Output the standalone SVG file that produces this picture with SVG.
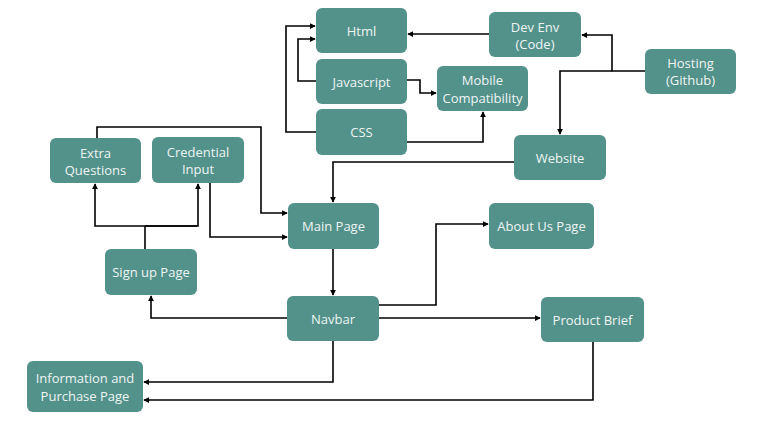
<svg xmlns="http://www.w3.org/2000/svg" width="759" height="427" viewBox="0 0 759 427">
<defs>
<marker id="ah" viewBox="0 0 8 8" refX="7" refY="4" markerWidth="6" markerHeight="6" orient="auto" markerUnits="userSpaceOnUse">
<path d="M0,0 L8,4 L0,8 z" fill="#000"/>
</marker>
<style>
.n rect{fill:#53918b;}
.n text{fill:#eef5f3;font-family:"Open Sans","Liberation Sans",sans-serif;font-size:13px;text-anchor:middle;dominant-baseline:central;}
.c path{fill:none;stroke:#000;stroke-width:1.6;marker-end:url(#ah);}
.c path.nm{marker-end:none;}
</style>
</defs>
<rect width="759" height="427" fill="#fff"/>
<g id="connectors" class="c">
<path d="M489,34 H408"/>
<path d="M645,71 H612 V35 H582"/>
<path d="M612,71 H560 V134"/>
<path d="M316,81 H298 V39 H315"/>
<path d="M316,132 H286 V26 H315"/>
<path d="M407,80 H420 V93 H436"/>
<path d="M407,142 H483 V112"/>
<path d="M514,162 H333 V202"/>
<path d="M97,138 V127 H261 V213 H287"/>
<path d="M210,183 V237 H287"/>
<path class="nm" d="M145,249 V226"/>
<path d="M197,226 H95 V184"/>
<path d="M145,226 H198 V184"/>
<path d="M333,249 V295"/>
<path d="M379,305 H436 V224 H488"/>
<path d="M379,318 H540"/>
<path d="M287,318 H151 V296"/>
<path d="M333,341 V382 H144"/>
<path d="M593,342 V400 H144"/>
</g>
<g id="html" class="n"><rect x="316" y="8" width="91" height="45" rx="6"/><text x="361.5" y="31">Html</text></g>
<g id="javascript" class="n"><rect x="316" y="59" width="91" height="45" rx="6"/><text x="361.5" y="81.5">Javascript</text></g>
<g id="css" class="n"><rect x="316" y="109" width="91" height="46" rx="6"/><text x="361.5" y="132">CSS</text></g>
<g id="mobile" class="n"><rect x="437" y="66" width="91" height="45" rx="6"/><text x="482.5" y="80">Mobile</text><text x="482.5" y="97.5">Compatibility</text></g>
<g id="devenv" class="n"><rect x="489" y="12" width="92" height="45" rx="6"/><text x="535" y="26.5">Dev Env</text><text x="535" y="44">(Code)</text></g>
<g id="hosting" class="n"><rect x="645" y="49" width="91" height="45" rx="6"/><text x="690.5" y="62.5">Hosting</text><text x="690.5" y="80">(Github)</text></g>
<g id="website" class="n"><rect x="514" y="135" width="92" height="45" rx="6"/><text x="560" y="157.5">Website</text></g>
<g id="extra" class="n"><rect x="50" y="138" width="91" height="45" rx="6"/><text x="95.5" y="152.5">Extra</text><text x="95.5" y="170">Questions</text></g>
<g id="credential" class="n"><rect x="152" y="137" width="92" height="46" rx="6"/><text x="198" y="151.5">Credential</text><text x="198" y="169">Input</text></g>
<g id="signup" class="n"><rect x="105" y="249" width="92" height="46" rx="6"/><text x="151" y="272">Sign up Page</text></g>
<g id="main" class="n"><rect x="288" y="203" width="91" height="46" rx="6"/><text x="333.5" y="226">Main Page</text></g>
<g id="about" class="n"><rect x="489" y="203" width="105" height="46" rx="6"/><text x="541.5" y="226">About Us Page</text></g>
<g id="navbar" class="n"><rect x="287" y="296" width="92" height="45" rx="6"/><text x="333" y="318.5">Navbar</text></g>
<g id="product" class="n"><rect x="541" y="297" width="103" height="45" rx="6"/><text x="592.5" y="319.5">Product Brief</text></g>
<g id="info" class="n"><rect x="27" y="361" width="116" height="51" rx="6"/><text x="85" y="378">Information and</text><text x="85" y="395.5">Purchase Page</text></g>
</svg>
